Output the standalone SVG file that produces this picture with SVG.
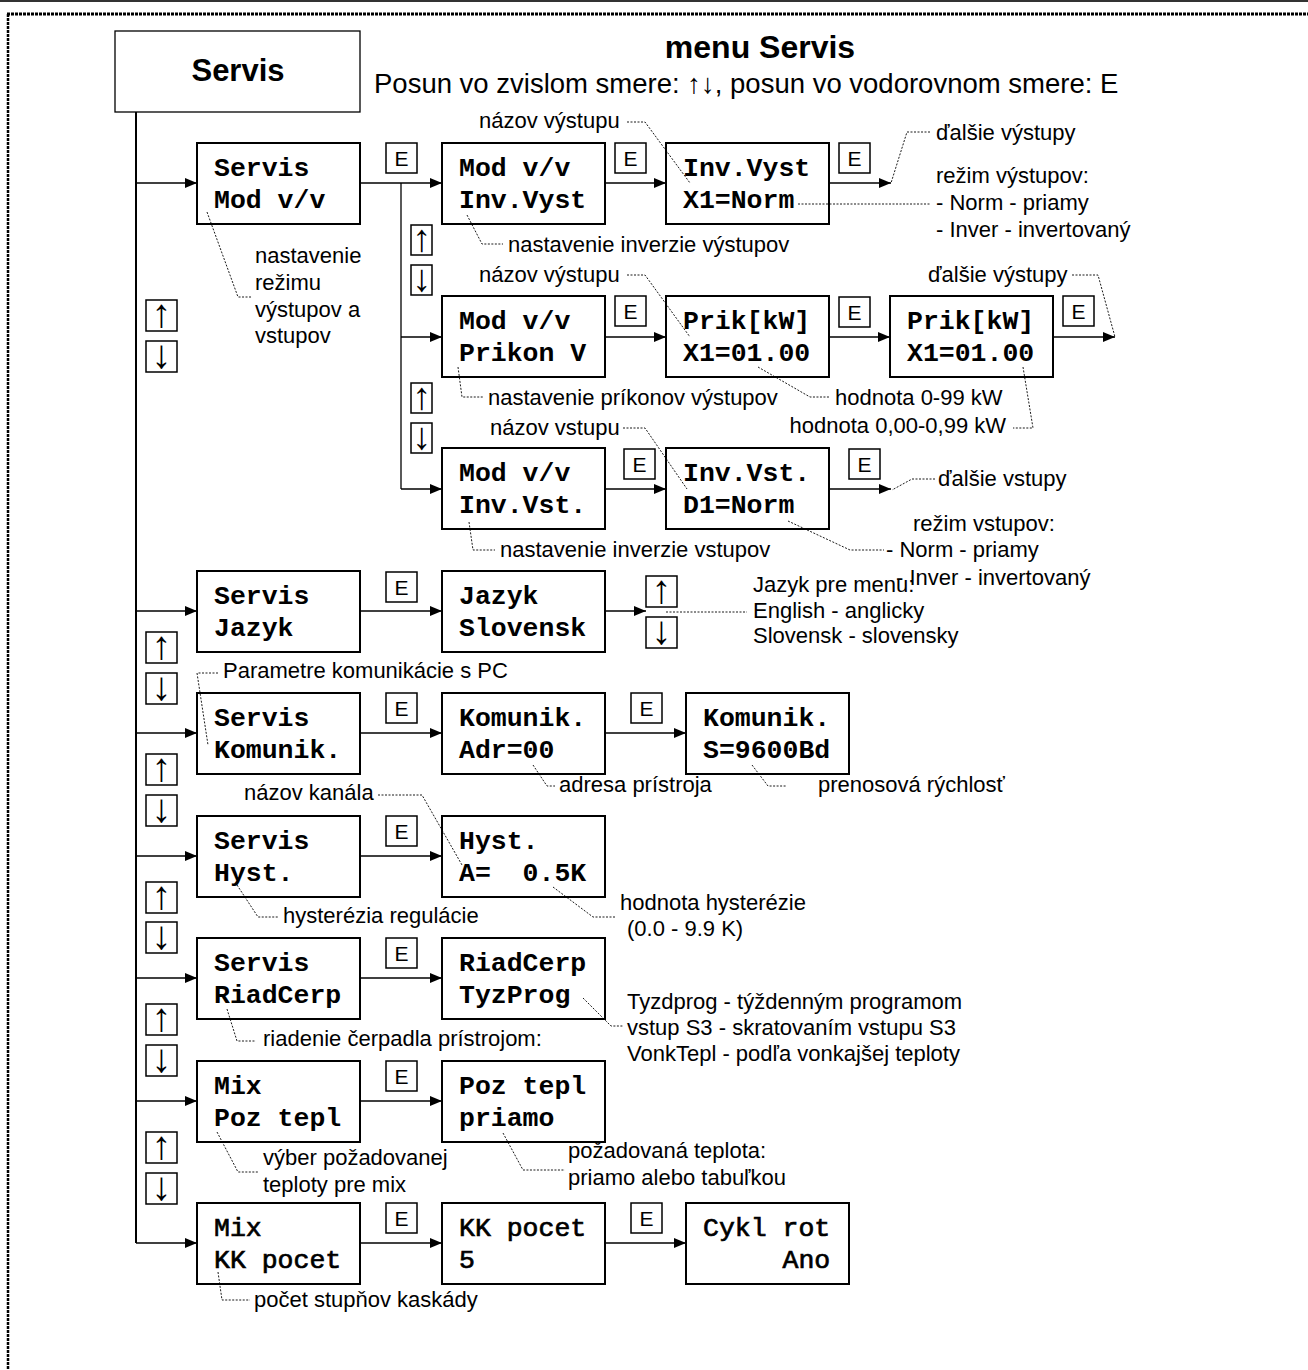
<svg xmlns="http://www.w3.org/2000/svg" width="1308" height="1370" viewBox="0 0 1308 1370">
<defs>
<marker id="ah" markerUnits="userSpaceOnUse" markerWidth="13" markerHeight="11" refX="12" refY="5" orient="auto">
<path d="M0,0 L12,5 L0,10 z" fill="#000"/>
</marker>
<style>
.bx{fill:#fff;stroke:#000;stroke-width:2}
.eb{fill:#fff;stroke:#000;stroke-width:1.5}
.ln{fill:none;stroke:#000;stroke-width:1.3}
.ar{fill:none;stroke:#000;stroke-width:1.3;marker-end:url(#ah)}
.ld{fill:none;stroke:#000;stroke-width:0.9;stroke-dasharray:2 1.5}
.m{font-family:"Liberation Mono","Courier New",monospace;font-weight:bold;font-size:26.5px;fill:#000}
.mr{font-family:"Liberation Mono","Courier New",monospace;font-weight:normal;font-size:26.5px;fill:#000;stroke:#000;stroke-width:0.7}
.a{font-family:"Liberation Sans",Arial,sans-serif;font-size:22px;fill:#000}
.e{font-family:"Liberation Sans",Arial,sans-serif;font-size:21px;fill:#000;text-anchor:middle}
.u{font-family:"Liberation Sans","DejaVu Sans",sans-serif;font-size:40px;fill:#000;text-anchor:middle}
.us{font-family:"Liberation Sans","DejaVu Sans",sans-serif;font-size:38px;fill:#000;text-anchor:middle}
</style>
</defs>
<rect width="1308" height="1370" fill="#fff"/>
<!-- frame -->
<line x1="0" y1="1" x2="1308" y2="1" stroke="#333" stroke-width="2"/>
<line x1="7" y1="14" x2="1308" y2="14" stroke="#000" stroke-width="3" stroke-dasharray="3 1"/>
<line x1="8" y1="14" x2="8" y2="1370" stroke="#000" stroke-width="2.5" stroke-dasharray="3 1"/>

<!-- title -->
<g id="title">
<rect x="115" y="31" width="245" height="81" fill="#fff" stroke="#000" stroke-width="1.3"/>
<text x="238" y="81" font-family="Liberation Sans,Arial,sans-serif" font-weight="bold" font-size="31" text-anchor="middle">Servis</text>
<text x="760" y="58" font-family="Liberation Sans,Arial,sans-serif" font-weight="bold" font-size="32" text-anchor="middle">menu Servis</text>
<text x="374" y="93" font-family="Liberation Sans,Arial,sans-serif" font-size="27.5">Posun vo zvislom smere: ↑↓, posun vo vodorovnom smere: E</text>
</g>

<!-- connectors -->
<g id="connectors">
<line class="ln" x1="136" y1="112" x2="136" y2="1243" style="stroke-width:2"/>
<line class="ar" x1="136" y1="183" x2="197" y2="183"/>
<line class="ar" x1="136" y1="611" x2="197" y2="611"/>
<line class="ar" x1="136" y1="733" x2="197" y2="733"/>
<line class="ar" x1="136" y1="856" x2="197" y2="856"/>
<line class="ar" x1="136" y1="978" x2="197" y2="978"/>
<line class="ar" x1="136" y1="1101" x2="197" y2="1101"/>
<line class="ar" x1="136" y1="1243" x2="197" y2="1243"/>
<!-- Mod v/v branch -->
<line class="ar" x1="360" y1="183" x2="442" y2="183"/>
<line class="ln" x1="401" y1="183" x2="401" y2="489"/>
<line class="ar" x1="401" y1="337" x2="442" y2="337"/>
<line class="ar" x1="401" y1="489" x2="442" y2="489"/>
<line class="ar" x1="605" y1="183" x2="666" y2="183"/>
<line class="ar" x1="829" y1="183" x2="891" y2="183"/>
<line class="ar" x1="605" y1="337" x2="666" y2="337"/>
<line class="ar" x1="829" y1="337" x2="890" y2="337"/>
<line class="ar" x1="1053" y1="337" x2="1115" y2="337"/>
<line class="ar" x1="605" y1="489" x2="666" y2="489"/>
<line class="ar" x1="829" y1="489" x2="891" y2="489"/>
<!-- other rows -->
<line class="ar" x1="360" y1="611" x2="442" y2="611"/>
<line class="ar" x1="605" y1="611" x2="646" y2="611"/>
<line class="ar" x1="360" y1="733" x2="442" y2="733"/>
<line class="ar" x1="605" y1="733" x2="686" y2="733"/>
<line class="ar" x1="360" y1="856" x2="442" y2="856"/>
<line class="ar" x1="360" y1="978" x2="442" y2="978"/>
<line class="ar" x1="360" y1="1101" x2="442" y2="1101"/>
<line class="ar" x1="360" y1="1243" x2="442" y2="1243"/>
<line class="ar" x1="605" y1="1243" x2="686" y2="1243"/>
</g>

<!-- key boxes -->
<g id="keys">
<rect class="eb" x="386" y="143" width="31" height="30"/><text class="e" x="401.5" y="166">E</text>
<rect class="eb" x="615" y="143" width="31" height="30"/><text class="e" x="630.5" y="166">E</text>
<rect class="eb" x="839" y="143" width="31" height="30"/><text class="e" x="854.5" y="166">E</text>
<rect class="eb" x="615" y="296" width="31" height="30"/><text class="e" x="630.5" y="319">E</text>
<rect class="eb" x="839" y="297" width="31" height="30"/><text class="e" x="854.5" y="320">E</text>
<rect class="eb" x="1063" y="296" width="31" height="30"/><text class="e" x="1078.5" y="319">E</text>
<rect class="eb" x="624" y="449" width="31" height="30"/><text class="e" x="639.5" y="472">E</text>
<rect class="eb" x="849" y="449" width="31" height="30"/><text class="e" x="864.5" y="472">E</text>
<rect class="eb" x="386" y="572" width="31" height="30"/><text class="e" x="401.5" y="595">E</text>
<rect class="eb" x="386" y="693" width="31" height="30"/><text class="e" x="401.5" y="716">E</text>
<rect class="eb" x="631" y="693" width="31" height="30"/><text class="e" x="646.5" y="716">E</text>
<rect class="eb" x="386" y="816" width="31" height="30"/><text class="e" x="401.5" y="839">E</text>
<rect class="eb" x="386" y="938" width="31" height="30"/><text class="e" x="401.5" y="961">E</text>
<rect class="eb" x="386" y="1061" width="31" height="30"/><text class="e" x="401.5" y="1084">E</text>
<rect class="eb" x="386" y="1203" width="31" height="30"/><text class="e" x="401.5" y="1226">E</text>
<rect class="eb" x="631" y="1203" width="31" height="30"/><text class="e" x="646.5" y="1226">E</text>
<!-- up/down main -->
<rect class="eb" x="146" y="300" width="31" height="31"/><text class="u" x="161.5" y="327">↑</text>
<rect class="eb" x="146" y="341" width="31" height="31"/><text class="u" x="161.5" y="368">↓</text>
<rect class="eb" x="146" y="632" width="31" height="31"/><text class="u" x="161.5" y="659">↑</text>
<rect class="eb" x="146" y="673" width="31" height="31"/><text class="u" x="161.5" y="700">↓</text>
<rect class="eb" x="146" y="754" width="31" height="31"/><text class="u" x="161.5" y="781">↑</text>
<rect class="eb" x="146" y="795" width="31" height="31"/><text class="u" x="161.5" y="822">↓</text>
<rect class="eb" x="146" y="882" width="31" height="31"/><text class="u" x="161.5" y="909">↑</text>
<rect class="eb" x="146" y="922" width="31" height="31"/><text class="u" x="161.5" y="949">↓</text>
<rect class="eb" x="146" y="1004" width="31" height="31"/><text class="u" x="161.5" y="1031">↑</text>
<rect class="eb" x="146" y="1045" width="31" height="31"/><text class="u" x="161.5" y="1072">↓</text>
<rect class="eb" x="146" y="1132" width="31" height="31"/><text class="u" x="161.5" y="1159">↑</text>
<rect class="eb" x="146" y="1173" width="31" height="31"/><text class="u" x="161.5" y="1200">↓</text>
<!-- up/down sub -->
<rect class="eb" x="411" y="225" width="21" height="30"/><text class="us" x="421.5" y="251">↑</text>
<rect class="eb" x="411" y="265" width="21" height="30"/><text class="us" x="421.5" y="291">↓</text>
<rect class="eb" x="411" y="383" width="21" height="30"/><text class="us" x="421.5" y="409">↑</text>
<rect class="eb" x="411" y="423" width="21" height="30"/><text class="us" x="421.5" y="449">↓</text>
<rect class="eb" x="646" y="576" width="31" height="31"/><text class="u" x="661.5" y="603">↑</text>
<rect class="eb" x="646" y="617" width="31" height="31"/><text class="u" x="661.5" y="644">↓</text>
</g>

<!-- nodes -->
<g id="n-servis-mod"><rect class="bx" x="197" y="143" width="163" height="81"/><text class="m" x="214" y="176">Servis</text><text class="m" x="214" y="208">Mod v/v</text></g>
<g id="n-mod-invvyst"><rect class="bx" x="442" y="143" width="163" height="81"/><text class="m" x="459" y="176">Mod v/v</text><text class="m" x="459" y="208">Inv.Vyst</text></g>
<g id="n-invvyst-x1"><rect class="bx" x="666" y="143" width="163" height="81"/><text class="m" x="683" y="176">Inv.Vyst</text><text class="m" x="683" y="208">X1=Norm</text></g>
<g id="n-mod-prikon"><rect class="bx" x="442" y="296" width="163" height="81"/><text class="m" x="459" y="329">Mod v/v</text><text class="m" x="459" y="361">Prikon V</text></g>
<g id="n-prik-1"><rect class="bx" x="666" y="296" width="163" height="81"/><text class="m" x="683" y="329">Prik[kW]</text><text class="m" x="683" y="361">X1=01.00</text></g>
<g id="n-prik-2"><rect class="bx" x="890" y="296" width="163" height="81"/><text class="m" x="907" y="329">Prik[kW]</text><text class="m" x="907" y="361">X1=01.00</text></g>
<g id="n-mod-invvst"><rect class="bx" x="442" y="448" width="163" height="81"/><text class="m" x="459" y="481">Mod v/v</text><text class="m" x="459" y="513">Inv.Vst.</text></g>
<g id="n-invvst-d1"><rect class="bx" x="666" y="448" width="163" height="81"/><text class="m" x="683" y="481">Inv.Vst.</text><text class="m" x="683" y="513">D1=Norm</text></g>
<g id="n-servis-jazyk"><rect class="bx" x="197" y="571" width="163" height="81"/><text class="m" x="214" y="604">Servis</text><text class="m" x="214" y="636">Jazyk</text></g>
<g id="n-jazyk"><rect class="bx" x="442" y="571" width="163" height="81"/><text class="m" x="459" y="604">Jazyk</text><text class="m" x="459" y="636">Slovensk</text></g>
<g id="n-servis-komunik"><rect class="bx" x="197" y="693" width="163" height="81"/><text class="m" x="214" y="726">Servis</text><text class="m" x="214" y="758">Komunik.</text></g>
<g id="n-komunik-adr"><rect class="bx" x="442" y="693" width="163" height="81"/><text class="m" x="459" y="726">Komunik.</text><text class="m" x="459" y="758">Adr=00</text></g>
<g id="n-komunik-s"><rect class="bx" x="686" y="693" width="163" height="81"/><text class="m" x="703" y="726">Komunik.</text><text class="m" x="703" y="758">S=9600Bd</text></g>
<g id="n-servis-hyst"><rect class="bx" x="197" y="816" width="163" height="81"/><text class="m" x="214" y="849">Servis</text><text class="m" x="214" y="881">Hyst.</text></g>
<g id="n-hyst"><rect class="bx" x="442" y="816" width="163" height="81"/><text class="m" x="459" y="849">Hyst.</text><text class="m" x="459" y="881" xml:space="preserve">A=  0.5K</text></g>
<g id="n-servis-riad"><rect class="bx" x="197" y="938" width="163" height="81"/><text class="m" x="214" y="971">Servis</text><text class="m" x="214" y="1003">RiadCerp</text></g>
<g id="n-riad"><rect class="bx" x="442" y="938" width="163" height="81"/><text class="m" x="459" y="971">RiadCerp</text><text class="m" x="459" y="1003">TyzProg</text></g>
<g id="n-mix-poz"><rect class="bx" x="197" y="1061" width="163" height="81"/><text class="m" x="214" y="1094">Mix</text><text class="m" x="214" y="1126">Poz tepl</text></g>
<g id="n-poz"><rect class="bx" x="442" y="1061" width="163" height="81"/><text class="m" x="459" y="1094">Poz tepl</text><text class="m" x="459" y="1126">priamo</text></g>
<g id="n-mix-kk"><rect class="bx" x="197" y="1203" width="163" height="81"/><text class="mr" x="214" y="1236">Mix</text><text class="mr" x="214" y="1268">KK pocet</text></g>
<g id="n-kk"><rect class="bx" x="442" y="1203" width="163" height="81"/><text class="mr" x="459" y="1236">KK pocet</text><text class="mr" x="459" y="1268">5</text></g>
<g id="n-cykl"><rect class="bx" x="686" y="1203" width="163" height="81"/><text class="mr" x="703" y="1236">Cykl rot</text><text class="mr" x="703" y="1268" xml:space="preserve">     Ano</text></g>

<!-- annotations -->
<g id="leaders">
<polyline class="ld" points="627,122 645,122 690,183"/>
<polyline class="ld" points="467,215 482,244 503,244"/>
<polyline class="ld" points="798,204 930,204"/>
<polyline class="ld" points="930,132 907,132 891,183"/>
<polyline class="ld" points="207,212 238,297 252,297"/>
<polyline class="ld" points="627,275 645,275 690,337"/>
<polyline class="ld" points="458,367 462,397 484,397"/>
<polyline class="ld" points="758,367 810,397 830,397"/>
<polyline class="ld" points="1023,367 1033,428 1013,428"/>
<polyline class="ld" points="1072,275 1098,275 1115,337"/>
<polyline class="ld" points="623,428 645,428 687,489"/>
<polyline class="ld" points="469,522 473,550 495,550"/>
<polyline class="ld" points="935,479 912,479 892,490"/>
<polyline class="ld" points="788,521 850,550 884,550"/>
<polyline class="ld" points="666,612 747,612"/>
<polyline class="ld" points="218,673 197,673 208,745"/>
<polyline class="ld" points="533,765 547,786 555,786"/>
<polyline class="ld" points="752,765 768,786 787,786"/>
<polyline class="ld" points="378,795 422,795 462,865"/>
<polyline class="ld" points="237,885 258,917 279,917"/>
<polyline class="ld" points="553,887 593,917 615,917"/>
<polyline class="ld" points="227,1009 237,1041 256,1041"/>
<polyline class="ld" points="583,998 611,1026 623,1026"/>
<polyline class="ld" points="217,1132 238,1172 258,1172"/>
<polyline class="ld" points="503,1133 523,1170 565,1170"/>
<polyline class="ld" points="218,1272 222,1300 250,1300"/>
</g>
<g id="labels">
<text class="a" x="479" y="128">názov výstupu</text>
<text class="a" x="508" y="252">nastavenie inverzie výstupov</text>
<text class="a" x="936" y="140">ďalšie výstupy</text>
<text class="a" x="936" y="183">režim výstupov:</text>
<text class="a" x="936" y="210">- Norm - priamy</text>
<text class="a" x="936" y="237">- Inver - invertovaný</text>
<text class="a" x="255" y="263">nastavenie</text>
<text class="a" x="255" y="290">režimu</text>
<text class="a" x="255" y="317">výstupov a</text>
<text class="a" x="255" y="343">vstupov</text>
<text class="a" x="479" y="282">názov výstupu</text>
<text class="a" x="928" y="282">ďalšie výstupy</text>
<text class="a" x="488" y="405">nastavenie príkonov výstupov</text>
<text class="a" x="835" y="405">hodnota 0-99 kW</text>
<text class="a" x="1006" y="433" text-anchor="end">hodnota 0,00-0,99 kW</text>
<text class="a" x="490" y="435">názov vstupu</text>
<text class="a" x="938" y="486">ďalšie vstupy</text>
<text class="a" x="500" y="557">nastavenie inverzie vstupov</text>
<text class="a" x="913" y="531">režim vstupov:</text>
<text class="a" x="886" y="557">- Norm - priamy</text>
<text class="a" x="896" y="585">- Inver - invertovaný</text>
<text class="a" x="753" y="592">Jazyk pre menu:</text>
<text class="a" x="753" y="618">English - anglicky</text>
<text class="a" x="753" y="643">Slovensk - slovensky</text>
<text class="a" x="223" y="678">Parametre komunikácie s PC</text>
<text class="a" x="559" y="792">adresa prístroja</text>
<text class="a" x="818" y="792">prenosová rýchlosť</text>
<text class="a" x="244" y="800">názov kanála</text>
<text class="a" x="283" y="923">hysterézia regulácie</text>
<text class="a" x="620" y="910">hodnota hysterézie</text>
<text class="a" x="627" y="936">(0.0 - 9.9 K)</text>
<text class="a" x="263" y="1046">riadenie čerpadla prístrojom:</text>
<text class="a" x="627" y="1009">Tyzdprog - týždenným programom</text>
<text class="a" x="627" y="1035">vstup S3 - skratovaním vstupu S3</text>
<text class="a" x="627" y="1061">VonkTepl - podľa vonkajšej teploty</text>
<text class="a" x="263" y="1165">výber požadovanej</text>
<text class="a" x="263" y="1192">teploty pre mix</text>
<text class="a" x="568" y="1158">požadovaná teplota:</text>
<text class="a" x="568" y="1185">priamo alebo tabuľkou</text>
<text class="a" x="254" y="1307">počet stupňov kaskády</text>
</g>
</svg>
